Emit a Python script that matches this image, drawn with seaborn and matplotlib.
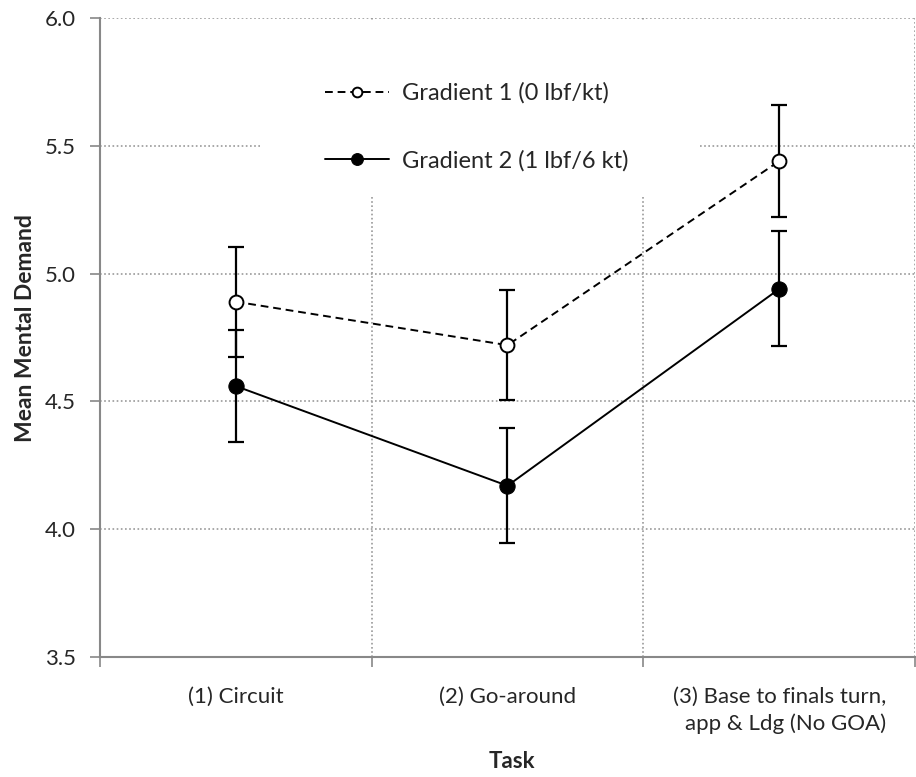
import numpy as np
import pandas as pd
import matplotlib
matplotlib.use("Agg")
import matplotlib.pyplot as plt
from matplotlib.patches import Rectangle
import seaborn as sns

# data
tasks = ["(1) Circuit", "(2) Go-around", "(3) Base to finals turn,\napp & Ldg (No GOA)"]
g1_mean = [4.89, 4.72, 5.44]
g1_err = [0.215, 0.215, 0.22]
g2_mean = [4.56, 4.17, 4.94]
g2_err = [0.22, 0.225, 0.225]
labels = ["Gradient 1 (0 lbf/kt)", "Gradient 2 (1 lbf/6 kt)"]

sns.set_theme(style="white")
plt.rcParams['font.family'] = ['Lato', 'DejaVu Sans']

pos = np.arange(len(tasks))
df = pd.DataFrame({"pos": np.concatenate([pos, pos]),
                   "mean": g1_mean + g2_mean,
                   "err": g1_err + g2_err,
                   "series": [labels[0]] * 3 + [labels[1]] * 3})

fig = plt.figure(figsize=(9.16, 7.77), dpi=100)
ax = fig.add_axes([0.109, 0.1544, 0.89, 0.8225])

d1 = df[df.series == labels[0]]
d2 = df[df.series == labels[1]]
sns.lineplot(data=d1, x="pos", y="mean", ax=ax, color="black", lw=1.4,
             linestyle=(0, (4, 2.5)), marker="o", markersize=10,
             markerfacecolor="white", markeredgecolor="black", markeredgewidth=1.4,
             label=labels[0], zorder=3)
sns.lineplot(data=d2, x="pos", y="mean", ax=ax, color="black", lw=1.4,
             marker="o", markersize=11, markerfacecolor="black",
             markeredgecolor="black", label=labels[1], zorder=3)
for d in (d1, d2):
    ax.errorbar(d["pos"], d["mean"], yerr=d["err"], fmt="none", ecolor="black",
                elinewidth=1.6, capsize=5.5, capthick=1.6, zorder=2)

ax.set_xlim(-0.5, 2.5)
ax.set_ylim(3.5, 6.0)
ax.set_yticks([3.5, 4.0, 4.5, 5.0, 5.5, 6.0])
ax.set_yticklabels(["3.5", "4.0", "4.5", "5.0", "5.5", "6.0"], fontsize=16)
ax.set_xticks([-0.5, 0.5, 1.5, 2.5])
ax.set_xticklabels([])
ax.set_xticks(pos, minor=True)
ax.set_xticklabels(tasks, minor=True, fontsize=16, ha="center", va="top",
                   multialignment="right", linespacing=1.38)
ax.tick_params(axis="x", which="minor", length=0, pad=21.5)
ax.tick_params(axis="x", which="major", direction="out", length=7, width=1.2,
               color="#888888", bottom=True)
ax.tick_params(axis="y", direction="out", length=7, width=1.2, color="#888888",
               left=True, pad=10)

ax.grid(True, which="major", axis="both", color="#999999", linestyle=(0, (1, 1.5)), lw=1.2)
ax.set_axisbelow(True)
for s in ("top", "right"):
    ax.spines[s].set_visible(False)
for s in ("left", "bottom"):
    ax.spines[s].set_color("#888888")
    ax.spines[s].set_linewidth(1.5)

ax.set_xlabel("Task", fontsize=16, fontweight="bold")
ax.xaxis.set_label_coords(0.506, -0.147)
ax.set_ylabel("Mean Mental Demand", fontsize=16.5, fontweight="bold")
ax.yaxis.set_label_coords(-0.078, 0.514)

# white block behind the legend hides the grid there
ax.add_patch(Rectangle((0.199, 0.72), 0.535, 0.275, transform=ax.transAxes,
                       facecolor="white", edgecolor="none", zorder=1))
leg = ax.legend(loc="upper left", bbox_to_anchor=(0.276, 0.899), frameon=False,
                fontsize=17, handlelength=2.7, handletextpad=0.55, labelspacing=1.95,
                borderpad=0, borderaxespad=0)
for h, ms in zip(leg.legend_handles, (7, 8.5)):
    h.set_markersize(ms)

fig.savefig("out.png", dpi=100)
